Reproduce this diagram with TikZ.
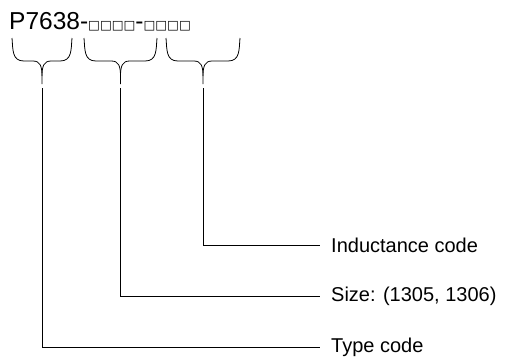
\documentclass[tikz,border=0pt]{standalone}
\usepackage{fontspec}
\setmainfont{Liberation Sans}
\newfontfamily\boxfont{DejaVu Sans}
\newcommand{\blanks}{{\boxfont\fontsize{12.5}{13}\selectfont □□□□}}
\tikzset{
  label/.style={anchor=west, inner ysep=2pt, inner xsep=0pt, font=\fontsize{20}{21}\selectfont},
  brace/.style={draw, line width=0.8pt},
  leader/.style={draw, line width=0.8pt, shorten >=11pt}
}
\begin{document}
\begin{tikzpicture}[x=1pt, y=-1pt]
    \useasboundingbox (0,0) rectangle (507,360);
    \node[anchor=base west, inner sep=0pt, font=\fontsize{24.5}{25}\selectfont] (part) at (9,29) {P7638-\blanks-\blanks};
    \foreach \a/\b/\n in {12/72/type, 84/157/size, 166/240/ind}
    {
      \pgfmathsetmacro{\c}{(\a+\b)/2}
      \path[brace] (\a,38) .. controls (\a+1,50) and (\a,61) .. (\a+12,61) -- (\c-9,61)
        .. controls (\c-2,61) and (\c,66) .. (\c,76) -- (\c,84);
      \path[brace] (\b,38) .. controls (\b-1,50) and (\b,61) .. (\b-12,61) -- (\c+9,61)
        .. controls (\c+2,61) and (\c,66) .. (\c,76);
      \coordinate (\n) at (\c,88);
    }
    \node[label] (indlbl) at (331,245) {Inductance code};
    \node[label] (sizelbl) at (331,296) {Size: (1305, 1306)};
    \node[label] (typelbl) at (331,347) {Type code};
    \path[leader] (ind) |- (indlbl.west);
    \path[leader] (size) |- (sizelbl.west);
    \path[leader] (type) |- (typelbl.west);
\end{tikzpicture}
\end{document}
